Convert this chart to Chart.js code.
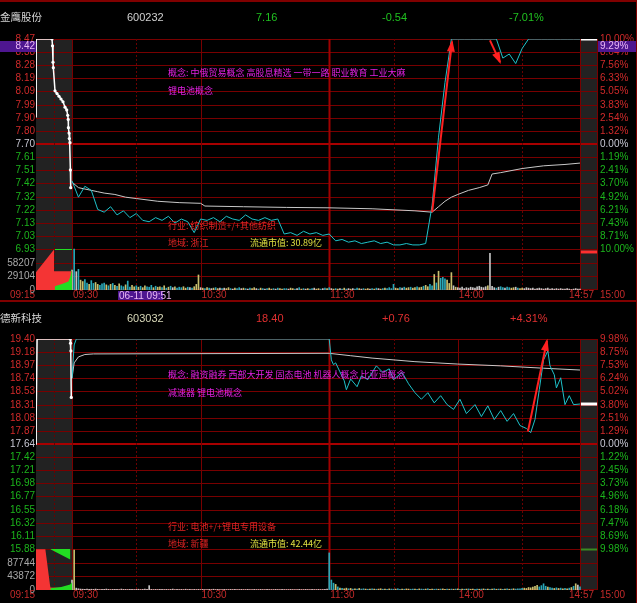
<!DOCTYPE html>
<html>
<head>
<meta charset="utf-8">
<script src="https://cdn.jsdelivr.net/npm/chart.js@4.4.1/dist/chart.umd.min.js"></script>
<style>
    html, body { margin: 0; padding: 0; background: #000; }
    #wrap { position: relative; width: 637px; height: 603px; overflow: hidden; background: #000; }
    canvas { position: absolute; left: 0; }
    .t { position: absolute; white-space: pre; font-family: "Noto Sans CJK SC", sans-serif; font-size: 9px; line-height: 12px; }
    .h { position: absolute; white-space: pre; font-family: "Liberation Sans Narrow", "Liberation Sans", Arial, sans-serif; font-size: 11px; line-height: 14px; }
    .name { font-family: "Noto Sans CJK SC", sans-serif; font-size: 10.5px; color: #d4d4d4; }
    .rule { position: absolute; background: #800000; }
    .mag { color: #e020e0; } .red { color: #e02424; } .yel { color: #e0e040; }
</style>
</head>
<body>
<div id="wrap">
    <canvas id="c1" width="637" height="300" style="top:0"></canvas>
    <canvas id="c2" width="637" height="300" style="top:300px"></canvas>

    <div class="rule" style="left:0;top:0;width:637px;height:2px"></div>
    <div class="rule" style="left:0;top:300px;width:637px;height:2px"></div>
    <div class="rule" style="left:636px;top:0;width:1px;height:603px"></div>

    <div class="h name" style="left:0;top:10px">金鹰股份</div>
    <div class="h" style="left:127px;top:10px;color:#d0d0d0">600232</div>
    <div class="h" style="left:256px;top:10px;color:#20c020">7.16</div>
    <div class="h" style="left:382px;top:10px;color:#20c020">-0.54</div>
    <div class="h" style="left:509px;top:10px;color:#20c020">-7.01%</div>

    <div class="t mag" style="left:168px;top:67px">概念: 中俄贸易概念 高股息精选 一带一路 职业教育 工业大麻</div>
    <div class="t mag" style="left:168px;top:85px">锂电池概念</div>
    <div class="t red" style="left:168px;top:220px">行业: 纺织制造+/+其他纺织</div>
    <div class="t red" style="left:168px;top:237px">地域: 浙江</div>
    <div class="t yel" style="left:250px;top:237px">流通市值: 30.89亿</div>

    <div class="h name" style="left:0;top:311px">德新科技</div>
    <div class="h" style="left:127px;top:311px;color:#d8d8b8">603032</div>
    <div class="h" style="left:256px;top:311px;color:#e03030">18.40</div>
    <div class="h" style="left:382px;top:311px;color:#e03030">+0.76</div>
    <div class="h" style="left:510px;top:311px;color:#e03030">+4.31%</div>

    <div class="t mag" style="left:168px;top:369px">概念: 融资融券 西部大开发 固态电池 机器人概念 比亚迪概念</div>
    <div class="t mag" style="left:168px;top:387px">减速器 锂电池概念</div>
    <div class="t red" style="left:168px;top:521px">行业: 电池+/+锂电专用设备</div>
    <div class="t red" style="left:168px;top:538px">地域: 新疆</div>
    <div class="t yel" style="left:250px;top:538px">流通市值: 42.44亿</div>
</div>
<script>
// x axis units: 9:15-9:25 auction squeezed into PRE_U, one unit per session minute, 14:57-15:00 in POST_U
const PRE_U = 16.8, MAIN_MIN = 237, POST_U = 8.4;
const TOTAL_U = PRE_U + MAIN_MIN + POST_U;
const preX = t => t * PRE_U / 10;
const mainX = m => PRE_U + m;
const postX = s => PRE_U + MAIN_MIN + s * POST_U / 3;

const timeTicks = ['09:15', '09:30', '10:30', '11:30', '14:00', '14:57', '15:00'];

// ---------- 600232 金鹰股份 ----------
const p1Up = 8.47, p1Down = 6.93;
const p1LeftLabels = ['8.47', '8.38', '8.28', '8.19', '8.09', '7.99', '7.90', '7.80', '7.70',
    '7.61', '7.51', '7.42', '7.32', '7.22', '7.13', '7.03', '6.93'];
const p1RightLabels = ['10.00%', '8.64%', '7.56%', '6.33%', '5.05%', '3.83%', '2.54%', '1.32%', '0.00%',
    '1.19%', '2.41%', '3.70%', '4.92%', '6.21%', '7.43%', '8.71%', '10.00%'];
const p1VolTicks = [29104, 58207];

const p1PreT = [0, 0.05, 0.3, 4.44, 4.58, 4.72, 4.81, 5.28, 5.83, 6.39, 6.94, 7.5, 8.06, 8.53, 8.81, 8.94, 9.0, 9.17, 9.25, 9.44, 9.55, 9.64];
const p1PrePrice = [7.90, 8.47, 8.47, 8.47, 8.42, 8.30, 8.26, 8.09, 8.07, 8.05, 8.03, 8.01, 7.97, 7.95, 7.91, 7.88, 7.82, 7.78, 7.74, 7.71, 7.51, 7.38];

const p1Min = [0, 3, 6, 9, 12, 15, 18, 21, 24, 27, 30, 33, 36, 39, 42, 45, 48, 51, 54, 57,
    60, 63, 66, 69, 72, 75, 78, 81, 84, 87, 90, 93, 96, 99, 102, 105, 108, 111, 114, 117,
    120, 123, 126, 129, 132, 135, 138, 141, 144, 147, 150, 153, 156, 159, 162, 165, 168, 171, 174, 177,
    180, 183, 186, 189, 192, 195, 198, 201, 204, 207, 210, 213, 216, 219, 222, 225, 228, 231, 234, 237];
const p1Price = [7.43, 7.31, 7.39, 7.36, 7.22, 7.20, 7.24, 7.18, 7.21, 7.16,
    7.19, 7.14, 7.13, 7.16, 7.14, 7.17, 7.12, 7.15, 7.13, 7.05,
    7.15, 7.14, 7.16, 7.13, 7.17, 7.15, 7.14, 7.18, 7.15, 7.14,
    7.16, 7.14, 7.15, 7.04, 7.05, 7.03, 7.06, 7.04, 7.05, 7.03,
    7.04, 6.99, 7.00, 6.98, 6.99, 6.97, 6.98, 6.99, 6.97, 6.98,
    6.96, 6.96, 6.97, 6.96, 6.96, 6.97, 7.25, 7.75, 8.15, 8.47,
    8.47, 8.47, 8.47, 8.47, 8.47, 8.47, 8.47, 8.33, 8.36, 8.29,
    8.40, 8.47, 8.47, 8.47, 8.47, 8.47, 8.47, 8.47, 8.47, 8.47];

const p1AvgMin = [0, 3, 6, 9, 12, 15, 20, 25, 30, 40, 50, 60, 62, 80, 100, 120, 140, 160, 168,
    171, 174, 177, 180, 185, 190, 194, 196, 200, 210, 220, 230, 237];
const p1Avg = [7.42, 7.38, 7.37, 7.36, 7.35, 7.34, 7.33, 7.31, 7.30, 7.28, 7.27, 7.265, 7.245, 7.24, 7.235, 7.232, 7.225, 7.21, 7.20,
    7.24, 7.28, 7.31, 7.33, 7.36, 7.38, 7.40, 7.48, 7.49, 7.52, 7.54, 7.55, 7.56];

const p1Vol = [42600, 87000, 39000, 44000, 21000, 18000, 22000, 15000, 12000, 20000,
    14000, 16000, 12000, 10000, 13000, 15000, 11000, 9000, 12000, 14000,
    10000, 8000, 13000, 9000, 7000, 11000, 19000, 6000, 10000, 7000,
    9000, 6000, 8000, 5000, 9000, 7000, 6000, 10000, 5000, 8000,
    6000, 7000, 5000, 9000, 4000, 6000, 8000, 5000, 7000, 4000,
    6000, 5000, 7000, 4000, 6000, 5000, 4000, 7000, 12000, 32000,
    5000, 4000, 3000, 5000, 4000, 3000, 4000, 5000, 3000, 4000,
    3000, 4000, 3000, 5000, 3000, 2000, 4000, 3000, 5000, 3000,
    4000, 3000, 2000, 4000, 3000, 5000, 3000, 2000, 4000, 3000,
    2000, 3000, 4000, 2000, 3000, 2000, 4000, 3000, 2000, 3000,
    3000, 2000, 4000, 3000, 2000, 3000, 5000, 2000, 3000, 2000,
    3000, 2000, 3000, 4000, 2000, 3000, 2000, 3000, 4000, 3000,
    5000, 3000, 2000, 3000, 2000, 3000, 2000, 4000, 2000, 3000,
    2000, 3000, 2000, 4000, 3000, 2000, 3000, 2000, 3000, 2000,
    3000, 2000, 4000, 3000, 2000, 3000, 4000, 3000, 5000, 3000,
    12000, 4000, 3000, 5000, 4000, 6000, 4000, 5000, 6000, 4000,
    5000, 7000, 5000, 6000, 8000, 10000, 7000, 12000, 9000, 33000,
    15000, 40000, 25000, 27000, 24000, 21000, 14000, 37000, 9000, 6000,
    5000, 4000, 6000, 3000, 5000, 4000, 6000, 5000, 4000, 7000,
    8000, 6000, 5000, 7000, 9000, 78000, 8000, 5000, 4000, 6000,
    7000, 5000, 4000, 6000, 5000, 4000, 5000, 6000, 4000, 3000,
    4000, 3000, 5000, 4000, 3000, 4000, 2000, 3000, 4000, 3000,
    2000, 3000, 4000, 2000, 3000, 2000, 3000, 2000, 3000, 2000,
    2000, 3000, 2000, 1000, 2000, 3000, 2000, 2000];
const p1VolCol = 'wcwcyyccyc' + 'cyycccycyc' + 'ycyccyccyy' + 'cycyycccyc' + 'yycycycwyc' +
    'ccyycwcyyy' + 'wycycwycyw' + 'cwyycwyccw' + 'ycwcyywcyc' + 'wcyycwcyyc' +
    'cwyycwcycw' + 'yccwyycwcy' + 'cwycywcycw' + 'ywccywcyyw' + 'cycwycyccc' +
    'cyycwcyycy' + 'ycyycyyccy' + 'cycccyyywy' + 'wwwwwwwwww' + 'wwwwywwwcw' +
    'ccwccyywcy' + 'ywwwwwwwww' + 'wwwwwwwwww' + 'wwwwwwww';

const p1RedT = [0, 5, 5.01, 10], p1Red = [38000, 86000, 40000, 40000];
const p1GreenT = [5.2, 7, 9, 9.6, 10], p1Green = [8000, 12000, 18000, 30000, 45000];
const p1GreenTopT = [5.2, 10], p1GreenTop = [85000, 85000];
const p1ClosePrice = 8.47, p1CloseVol = 81000;
const p1Arrows = [[168, 7.20, 177.3, 8.45], [195, 8.46, 199.7, 8.30]];
const p1Cursor = { min: 21, price: 8.4155, label: '06-11 09:51' };

// ---------- 603032 德新科技 ----------
const p2Up = 19.40, p2Down = 15.88;
const p2LeftLabels = ['19.40', '19.18', '18.97', '18.74', '18.53', '18.31', '18.08', '17.87', '17.64',
    '17.42', '17.21', '16.98', '16.77', '16.55', '16.32', '16.11', '15.88'];
const p2RightLabels = ['9.98%', '8.75%', '7.53%', '6.24%', '5.02%', '3.80%', '2.51%', '1.29%', '0.00%',
    '1.22%', '2.45%', '3.73%', '4.96%', '6.18%', '7.47%', '8.69%', '9.98%'];
const p2VolTicks = [43872, 87744];

const p2PreT = [0, 0.05, 0.3, 9.5, 9.6, 9.7, 9.8];
const p2PrePrice = [17.64, 18.08, 19.40, 19.40, 19.33, 19.20, 18.42];

const p2Min = [0, 1, 2, 120, 121, 122, 123, 125, 127, 128, 130, 133, 135, 138, 142, 145, 148, 150, 154, 157,
    160, 163, 166, 169, 172, 175, 178, 181, 184, 188, 191, 194, 197, 200, 203, 206, 209, 212, 214, 216,
    218, 220, 222, 223, 225, 226, 228, 230, 232, 234, 237];
const p2Price = [18.74, 19.30, 19.40, 19.40, 19.05, 18.97, 19.00, 18.85, 18.70, 18.55, 18.73, 18.60, 18.78, 18.72, 18.95, 18.84, 18.90, 18.72, 18.84, 18.65,
    18.50, 18.39, 18.50, 18.33, 18.45, 18.30, 18.22, 18.39, 18.15, 18.30, 18.10, 18.28, 18.05, 18.20, 18.02, 18.15, 17.95, 17.90, 17.83, 18.05,
    18.55, 19.05, 19.20, 18.95, 18.80, 18.58, 18.75, 18.30, 18.45, 18.30, 18.31];

const p2AvgMin = [0, 1, 3, 6, 10, 120, 130, 140, 160, 180, 200, 220, 237];
const p2Avg = [18.74, 19.00, 19.10, 19.14, 19.15, 19.16, 19.12, 19.08, 19.02, 18.98, 18.95, 18.91, 18.88];

const p2Vol = [32000, 128000, 6000, 4000, 3000, 2500, 2000, 3000, 2000, 2500,
    2000, 3000, 2000, 1500, 2500, 2000, 3000, 2000, 1500, 2000,
    2500, 2000, 1500, 3000, 2000, 2000, 1500, 2500, 2000, 1500,
    2000, 2500, 1500, 2000, 3000, 2000, 14000, 2000, 1500, 2000,
    1500, 2000, 2500, 1500, 2000, 1500, 2000, 3000, 1500, 2000,
    1500, 2000, 1500, 2500, 1500, 2000, 1500, 2000, 1500, 2000,
    1500, 2000, 1500, 1500, 2000, 1500, 2500, 1500, 2000, 1500,
    1500, 2000, 1500, 1500, 2000, 1500, 2000, 1500, 1500, 2000,
    1500, 1500, 2000, 1500, 1500, 2000, 1500, 1500, 2000, 1500,
    1500, 2000, 1500, 1500, 1500, 2000, 1500, 1500, 2000, 1500,
    1500, 1500, 2000, 1500, 1500, 1500, 2000, 1500, 1500, 2000,
    1500, 1500, 2000, 1500, 1500, 2000, 1500, 1500, 2000, 3000,
    119000, 32000, 22000, 18000, 10000, 6000, 5000, 4000, 6000, 4000,
    5000, 3000, 4000, 3000, 5000, 3000, 4000, 3000, 2500, 3000,
    4000, 3000, 2500, 3000, 4000, 2500, 3000, 2500, 3500, 3000,
    2500, 3000, 4000, 2500, 3000, 2500, 3500, 3000, 2500, 3000,
    3000, 2500, 3500, 3000, 2500, 3000, 4000, 2500, 3000, 2500,
    3000, 2500, 3000, 3500, 2500, 3000, 2500, 3000, 2500, 3000,
    3500, 2500, 3000, 2500, 3000, 3500, 2500, 3000, 2500, 3000,
    2500, 3000, 3500, 2500, 3000, 2500, 3000, 4000, 2500, 3000,
    3000, 2500, 3000, 3500, 2500, 3000, 4000, 3000, 3500, 4000,
    5000, 6000, 5000, 8000, 7000, 9000, 12000, 15000, 10000, 14000,
    20000, 12000, 9000, 8000, 6000, 5000, 7000, 5000, 6000, 4000,
    5000, 4000, 6000, 8000, 12000, 20000, 16000, 10000];
const p2VolCol = 'wywwwwwwww' + 'wwwwwwwwww'.repeat(11) +
    'cccycycyyc' + 'ycycyccycy' + 'cycyycycyc' + 'cyccycyycc' + 'ycyccycyyc' +
    'cycyycycyc' + 'ycycycyycc' + 'ycycycycyc' + 'ycycycyccc' + 'cyyyyyyycc' +
    'ccyccycycy' + 'cycycywc';

const p2RedT = [0, 2.6, 3.9, 4.0, 10], p2Red = [131000, 131000, 15000, 8000, 6000];
const p2GreenT = [4.0, 7, 9.5, 10], p2Green = [6000, 10000, 18000, 25000];
const p2GreenTopT = [4.0, 9.5, 9.55], p2GreenTop = [131000, 98000, 131000];
const p2ClosePrice = 18.31, p2CloseVol = 130000;
const p2Arrows = [[212.7, 17.85, 221.6, 19.37]];

const BAR_COLORS = { w: '#c4c4c4', y: '#c8bf6e', c: '#2aa8b8' };
const RED_TXT = '#d02a2a', GREEN_TXT = '#1cb41c', MID_TXT = '#c8c8d4';
const LABEL_FONT = '10px "Liberation Sans Narrow", "Liberation Sans", Arial, sans-serif';

function makeDeco(d, volTop) {
    const n = d.leftLabels.length - 1;
    const tickVal = i => d.up - i * (d.up - d.down) / n;
    const txtCol = i => i < n / 2 ? RED_TXT : (i === n / 2 ? MID_TXT : GREEN_TXT);
    return {
        id: 'deco',
        beforeDatasetsDraw(chart) {
            const { ctx, chartArea: a } = chart;
            const { x, y, v } = chart.scales;
            const px = u => Math.round(x.getPixelForValue(u));
            ctx.save();
            ctx.fillStyle = '#222222';
            ctx.fillRect(px(0), a.top, px(PRE_U) - px(0), a.bottom - a.top);
            ctx.fillRect(px(postX(0)), a.top, px(TOTAL_U) - px(postX(0)), a.bottom - a.top);

            const hline = (py, col, w) => {
                ctx.strokeStyle = col; ctx.lineWidth = w; ctx.setLineDash([]);
                ctx.beginPath(); ctx.moveTo(a.left, py); ctx.lineTo(a.right, py); ctx.stroke();
            };
            for (let i = 0; i <= n; i++) {
                const py = Math.round(y.getPixelForValue(tickVal(i)));
                if (i === n / 2) hline(py, '#a80000', 2);
                else hline(py + 0.5, '#780000', 1);
            }
            [volTop / 3, volTop * 2 / 3].forEach(val => hline(Math.round(v.getPixelForValue(val)) + 0.5, '#780000', 1));
            hline(Math.round(v.getPixelForValue(0)) - 0.5, '#780000', 1);

            const vline = (u, col, w, dash) => {
                const p = Math.min(px(u), Math.round(a.right) - 1) + 0.5;
                ctx.strokeStyle = col; ctx.lineWidth = w; ctx.setLineDash(dash);
                ctx.beginPath(); ctx.moveTo(p, a.top); ctx.lineTo(p, a.bottom); ctx.stroke();
            };
            [PRE_U, mainX(60), mainX(180), postX(0), TOTAL_U].forEach(u => vline(u, '#780000', 1, []));
            vline(mainX(120), '#a00000', 2, []);
            [preX(5), mainX(30), mainX(150), mainX(210)].forEach(u => vline(u, '#6a0000', 1, [2, 2]));
            ctx.restore();
        },
        afterDatasetsDraw(chart) {
            const { ctx } = chart;
            const { x, y } = chart.scales;
            ctx.save();
            ctx.fillStyle = '#ff2020';
            d.arrows.forEach(ar => {
                const x0 = x.getPixelForValue(mainX(ar[0])), y0 = y.getPixelForValue(ar[1]);
                const x1 = x.getPixelForValue(mainX(ar[2])), y1 = y.getPixelForValue(ar[3]);
                const ang = Math.atan2(y1 - y0, x1 - x0);
                ctx.beginPath();
                ctx.moveTo(x1 + 2 * Math.cos(ang), y1 + 2 * Math.sin(ang));
                ctx.lineTo(x1 - 10 * Math.cos(ang) + 4 * Math.sin(ang), y1 - 10 * Math.sin(ang) - 4 * Math.cos(ang));
                ctx.lineTo(x1 - 10 * Math.cos(ang) - 4 * Math.sin(ang), y1 - 10 * Math.sin(ang) + 4 * Math.cos(ang));
                ctx.closePath();
                ctx.fill();
            });
            ctx.restore();
        },
        afterDraw(chart) {
            const { ctx, chartArea: a } = chart;
            const { x, y, v } = chart.scales;
            ctx.save();
            ctx.font = LABEL_FONT;
            ctx.textBaseline = 'middle';
            for (let i = 0; i <= n; i++) {
                const py = Math.round(y.getPixelForValue(tickVal(i)));
                ctx.fillStyle = txtCol(i);
                ctx.textAlign = 'right';
                ctx.fillText(d.leftLabels[i], a.left - 1, py);
                ctx.textAlign = 'left';
                ctx.fillText(d.rightLabels[i], a.right + 2, py);
            }
            ctx.fillStyle = '#a8a8a8';
            ctx.textAlign = 'right';
            ctx.fillText(String(d.volTicks[1]), a.left - 1, Math.round(v.getPixelForValue(volTop * 2 / 3)));
            ctx.fillText(String(d.volTicks[0]), a.left - 1, Math.round(v.getPixelForValue(volTop / 3)));
            ctx.fillText('0', a.left - 1, Math.round(v.getPixelForValue(0)));

            // time axis
            const ty = a.bottom + 5;
            const tx = [preX(0), mainX(0), mainX(60), mainX(120), mainX(180), postX(3), postX(3)];
            ctx.fillStyle = '#c42a2a';
            timeTicks.forEach((lab, i) => {
                const p = x.getPixelForValue(tx[i]);
                if (i === 0) { ctx.textAlign = 'right'; ctx.fillText(lab, p - 1, ty); }
                else if (i === 5) { ctx.textAlign = 'right'; ctx.fillText(lab, p - 4, ty); }
                else if (i === 6) { ctx.textAlign = 'left'; ctx.fillText(lab, p + 2, ty); }
                else { ctx.textAlign = 'left'; ctx.fillText(lab, p + 1, ty); }
            });

            if (d.cursor) {
                const cy = y.getPixelForValue(d.cursor.price);
                const pct = ((d.cursor.price - d.preClose) / d.preClose * 100).toFixed(2) + '%';
                ctx.fillStyle = '#4e1690';
                ctx.fillRect(0, Math.round(cy) - 5, a.left, 11);
                ctx.fillRect(a.right, Math.round(cy) - 5, chart.width - a.right, 11);
                const cx = Math.round(x.getPixelForValue(mainX(d.cursor.min)));
                ctx.fillRect(cx + 1, a.bottom + 1, 45, 10);
                ctx.fillStyle = '#eab8f4';
                ctx.textAlign = 'right';
                ctx.fillText(d.cursor.price.toFixed(2), a.left - 1, Math.round(cy));
                ctx.textAlign = 'left';
                ctx.fillText(pct, a.right + 2, Math.round(cy));
                ctx.fillText(d.cursor.label, cx + 2, ty + 1);
            }
            ctx.restore();
        }
    };
}

function buildPanel(id, d) {
    const span = d.up - d.down;
    const volTop = d.volTicks[1] * 1.5;
    const pts = (ts, vs, f) => ts.map((t, i) => ({ x: f(t), y: vs[i] }));
    const lineBase = { type: 'line', pointRadius: 0, tension: 0, fill: false };

    const datasets = [
        // user drawn arrows
        ...d.arrows.map(ar => ({
            ...lineBase, yAxisID: 'y', borderColor: '#ff2020', borderWidth: 2,
            data: [{ x: mainX(ar[0]), y: ar[1] }, { x: mainX(ar[2]), y: ar[3] }]
        })),
        {
            ...lineBase, yAxisID: 'y', borderColor: '#ffffff', borderWidth: 3,
            data: [{ x: postX(0.15), y: d.closePrice }, { x: postX(2.85), y: d.closePrice }]
        },
        {
            ...lineBase, yAxisID: 'y', borderColor: '#ffffff', borderWidth: 1.5,
            pointRadius: d.preT.map((t, i) => i < 3 ? 0 : 1.6), pointBackgroundColor: '#ffffff', pointBorderWidth: 0,
            data: pts(d.preT, d.prePrice, preX)
        },
        { ...lineBase, yAxisID: 'y', borderColor: '#1ec2ca', borderWidth: 1, data: pts(d.min, d.price, mainX) },
        { ...lineBase, yAxisID: 'y', borderColor: '#c8c8c8', borderWidth: 1, data: pts(d.avgMin, d.avg, mainX) },
        {
            ...lineBase, yAxisID: 'v', borderColor: d.closeVolColor, borderWidth: d.closeVolWidth,
            data: [{ x: postX(0.15), y: d.closeVol }, { x: postX(2.85), y: d.closeVol }]
        },
        {
            ...lineBase, yAxisID: 'v', borderWidth: 0, backgroundColor: '#22dd22',
            fill: { value: volTop }, data: pts(d.greenTopT, d.greenTop, preX)
        },
        {
            ...lineBase, yAxisID: 'v', borderWidth: 0, backgroundColor: '#22dd22',
            fill: 'origin', data: pts(d.greenT, d.green, preX)
        },
        {
            ...lineBase, yAxisID: 'v', borderWidth: 0, backgroundColor: '#f43434',
            fill: 'origin', data: pts(d.redT, d.red, preX)
        },
        {
            type: 'bar', yAxisID: 'v', barThickness: 1, grouped: false,
            backgroundColor: d.volCol.split('').map(c => BAR_COLORS[c]),
            data: d.vol.map((val, i) => ({ x: mainX(i), y: val }))
        }
    ];

    return new Chart(document.getElementById(id).getContext('2d'), {
        type: 'line',
        data: { datasets },
        options: {
            responsive: false,
            animation: false,
            events: [],
            layout: { padding: { left: 36, right: 39, top: 39, bottom: 10 } },
            plugins: { legend: { display: false }, tooltip: { enabled: false } },
            scales: {
                x: { type: 'linear', display: false, min: 0, max: TOTAL_U, offset: false },
                y: { type: 'linear', display: false, max: d.up, min: d.up - span * 251 / 210 },
                v: { type: 'linear', display: false, min: 0, max: volTop * 251 / 41 }
            }
        },
        plugins: [makeDeco(d, volTop)]
    });
}

buildPanel('c1', {
    up: p1Up, down: p1Down, preClose: 7.70,
    leftLabels: p1LeftLabels, rightLabels: p1RightLabels, volTicks: p1VolTicks,
    preT: p1PreT, prePrice: p1PrePrice, min: p1Min, price: p1Price, avgMin: p1AvgMin, avg: p1Avg,
    vol: p1Vol, volCol: p1VolCol,
    redT: p1RedT, red: p1Red, greenT: p1GreenT, green: p1Green, greenTopT: p1GreenTopT, greenTop: p1GreenTop,
    closePrice: p1ClosePrice, closeVol: p1CloseVol, closeVolColor: '#ff3030', closeVolWidth: 3,
    arrows: p1Arrows, cursor: p1Cursor
});

buildPanel('c2', {
    up: p2Up, down: p2Down, preClose: 17.64,
    leftLabels: p2LeftLabels, rightLabels: p2RightLabels, volTicks: p2VolTicks,
    preT: p2PreT, prePrice: p2PrePrice, min: p2Min, price: p2Price, avgMin: p2AvgMin, avg: p2Avg,
    vol: p2Vol, volCol: p2VolCol,
    redT: p2RedT, red: p2Red, greenT: p2GreenT, green: p2Green, greenTopT: p2GreenTopT, greenTop: p2GreenTop,
    closePrice: p2ClosePrice, closeVol: p2CloseVol, closeVolColor: '#3a8a22', closeVolWidth: 2,
    arrows: p2Arrows, cursor: null
});
</script>
</body>
</html>
